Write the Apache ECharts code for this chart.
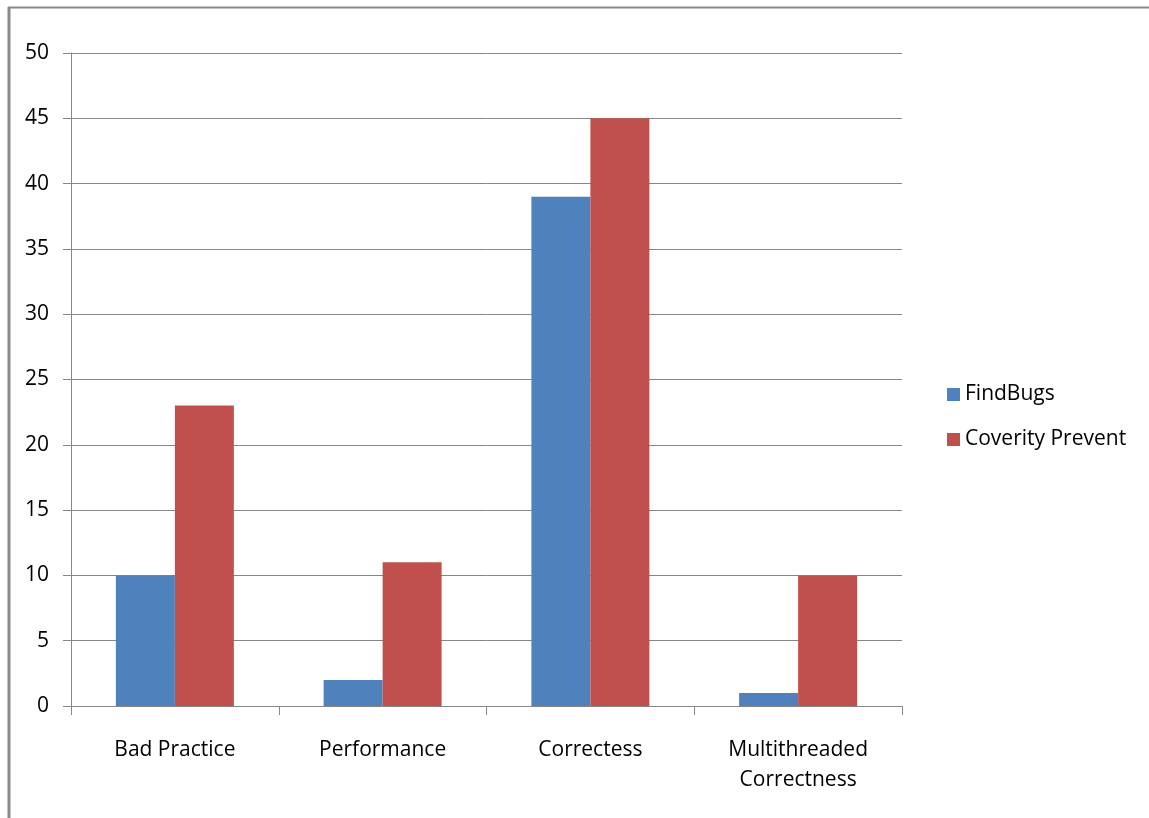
<!DOCTYPE html>
<html><head><meta charset="utf-8">
<script src="https://cdn.jsdelivr.net/npm/echarts@6/dist/echarts.min.js"></script>
<style>html,body{margin:0;padding:0;background:#fff}#c{width:1149px;height:818px}</style>
</head><body><div id="c"></div>
<script>
const categories = ['Bad Practice', 'Performance', 'Correctess', 'Multithreaded\nCorrectness'];
const findBugs = [10, 2, 39, 1];
const coverity = [23, 11, 45, 10];
const yTicks = { min: 0, max: 50, interval: 5 };

const FONT = '"Open Sans", sans-serif';
const chart = echarts.init(document.getElementById('c'), null, { renderer: 'canvas' });
chart.setOption({
  animation: false,
  backgroundColor: '#fff',
  textStyle: { fontFamily: FONT },
  graphic: [
    { type: 'line', shape: { x1: 9, y1: 7, x2: 9, y2: 818 }, style: { stroke: '#8a8a8a', lineWidth: 3 } },
    { type: 'line', shape: { x1: 8, y1: 7.5, x2: 1149, y2: 7.5 }, style: { stroke: '#8a8a8a', lineWidth: 2 } }
  ],
  grid: { left: 71, right: 247, top: 53, bottom: 112, containLabel: false },
  legend: {
    orient: 'vertical', left: 942, top: 379, itemWidth: 13, itemHeight: 13, itemGap: 24,
    icon: 'rect',
    textStyle: { fontFamily: FONT, fontSize: 21, color: '#000' },
    data: ['FindBugs', 'Coverity Prevent']
  },
  xAxis: {
    type: 'category', data: categories,
    axisLine: { lineStyle: { color: '#868686', width: 1 } },
    axisTick: { show: true, length: 9, lineStyle: { color: '#868686' } },
    axisLabel: { fontFamily: FONT, fontSize: 21, color: '#000', margin: 29, lineHeight: 30, interval: 0 }
  },
  yAxis: {
    type: 'value', min: yTicks.min, max: yTicks.max, interval: yTicks.interval,
    axisLine: { show: true, lineStyle: { color: '#868686', width: 1 } },
    axisTick: { show: true, length: 8, lineStyle: { color: '#868686' } },
    splitLine: { lineStyle: { color: '#868686', width: 1 } },
    axisLabel: { fontFamily: FONT, fontSize: 21, color: '#000', margin: 22 }
  },
  series: [
    { name: 'FindBugs', type: 'bar', data: findBugs, barWidth: 59, barGap: '0%', itemStyle: { color: '#4f81bd' } },
    { name: 'Coverity Prevent', type: 'bar', data: coverity, barWidth: 59, barGap: '0%', itemStyle: { color: '#c0504d' } }
  ]
});
</script></body></html>
